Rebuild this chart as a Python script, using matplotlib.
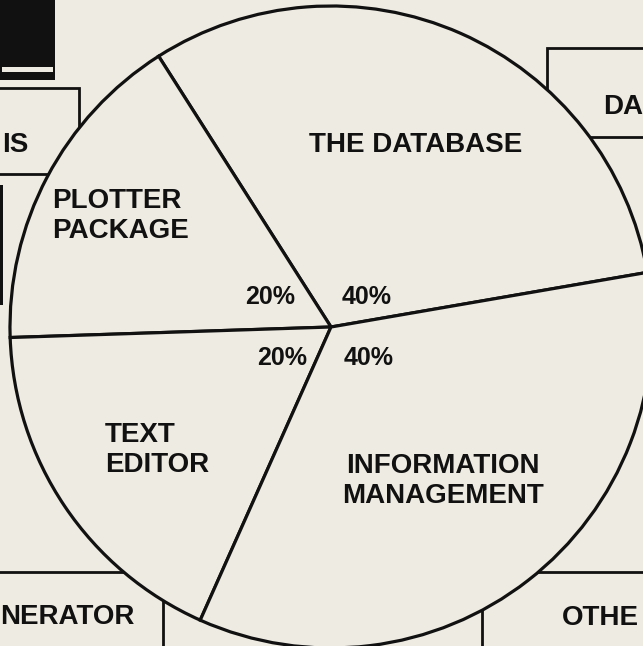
import matplotlib.pyplot as plt
from matplotlib.patches import Rectangle

# wedge shares (the printed labels say 40/20/20/40)
segments = ["THE DATABASE", "PLOTTER\nPACKAGE", "TEXT\nEDITOR", "INFORMATION\nMANAGEMENT"]
shares = [31.3, 16.5, 17.8, 34.4]
pct_labels = ["40%", "20%", "20%", "40%"]

# clipped words of the surrounding boxes
box_words = ["IS", "DA", "NERATOR", "OTHE"]

W, H = 643, 646
paper = "#eeebe2"
ink = "#111111"


def Y(y):
    # picture rows -> axis y
    return H - y


plt.rcParams["font.family"] = ["Liberation Sans", "DejaVu Sans"]

fig = plt.figure(figsize=(W / 100, H / 100), dpi=100, facecolor=paper)
ax = fig.add_axes([0, 0, 1, 1])
ax.set_facecolor(paper)

# boxes behind the pie
ax.add_patch(Rectangle((0, Y(80)), 55, 80, facecolor=ink, edgecolor="none", zorder=0))
ax.add_patch(Rectangle((2, Y(72)), 51, 5, facecolor=paper, edgecolor="none", zorder=0))
ax.add_patch(Rectangle((0, Y(305)), 3, 120, facecolor=ink, edgecolor="none", zorder=0))
for x0, y0, x1, y1 in [(-10, 88, 79, 174), (547, 48, 700, 137),
                       (-10, 572, 163, 700), (482, 572, 700, 700)]:
    ax.add_patch(Rectangle((x0, Y(y1)), x1 - x0, y1 - y0, facecolor="none",
                           edgecolor=ink, linewidth=2.0, zorder=0))

ax.text(2, Y(145), box_words[0], fontsize=20, fontweight="bold", color=ink, ha="left", va="center")
ax.text(603, Y(107), box_words[1], fontsize=20, fontweight="bold", color=ink, ha="left", va="center")
ax.text(0, Y(617), box_words[2], fontsize=20, fontweight="bold", color=ink, ha="left", va="center")
ax.text(562, Y(618), box_words[3], fontsize=20, fontweight="bold", color=ink, ha="left", va="center")

ax.pie(shares, startangle=9.8, counterclock=True, center=(331, Y(327)), radius=321,
       colors=[paper] * len(shares), frame=True,
       wedgeprops={"edgecolor": ink, "linewidth": 2.3})

# segment names
ax.text(416, Y(145), segments[0], fontsize=20, fontweight="bold", color=ink, ha="center", va="center")
ax.text(52, Y(216), segments[1], fontsize=20, fontweight="bold", color=ink, ha="left", va="center",
        linespacing=1.22)
ax.text(105, Y(450), segments[2], fontsize=20, fontweight="bold", color=ink, ha="left", va="center",
        linespacing=1.22)
ax.text(443, Y(481), segments[3], fontsize=20, fontweight="bold", color=ink, ha="center", va="center",
        linespacing=1.22)

# percentages around the centre
ax.text(367, Y(297), pct_labels[0], fontsize=18, fontweight="bold", color=ink, ha="center", va="center")
ax.text(270, Y(297), pct_labels[1], fontsize=18, fontweight="bold", color=ink, ha="center", va="center")
ax.text(282, Y(358), pct_labels[2], fontsize=18, fontweight="bold", color=ink, ha="center", va="center")
ax.text(369, Y(358), pct_labels[3], fontsize=18, fontweight="bold", color=ink, ha="center", va="center")

ax.set_xlim(0, W)
ax.set_ylim(0, H)
ax.axis("off")
fig.savefig("out.png", dpi=100, facecolor=paper)
